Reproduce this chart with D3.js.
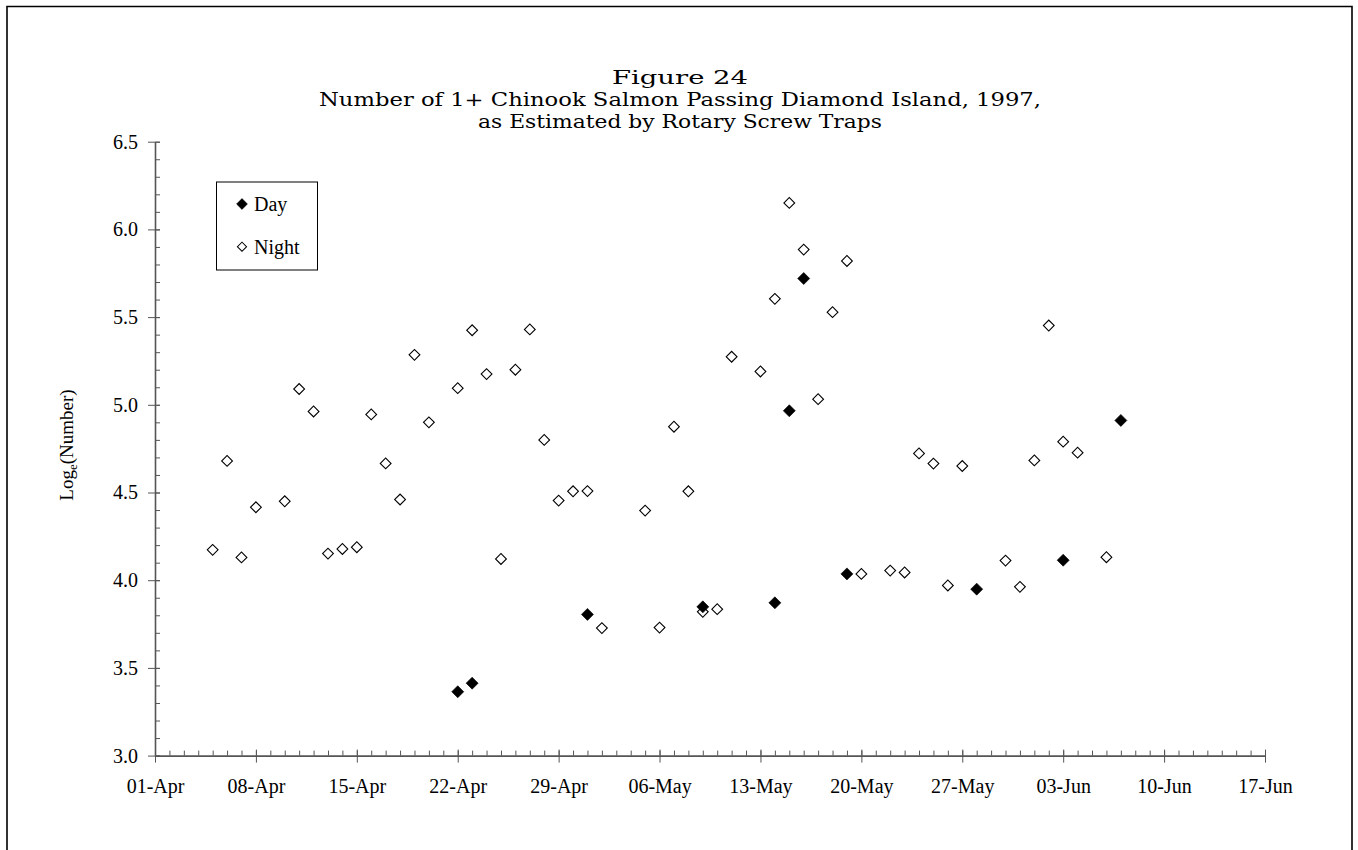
<!DOCTYPE html>
<html>
<head>
<meta charset="utf-8">
<script src="https://cdn.jsdelivr.net/npm/d3@7"></script>
<style>
  html, body { margin: 0; padding: 0; background: #fff; }
  svg { display: block; }
</style>
</head>
<body>
<svg id="chart" width="1358" height="850"></svg>
<script>
// ---- data ----
const titleLines = ["Figure 24",
  "Number of 1+ Chinook Salmon Passing Diamond Island, 1997,",
  "as Estimated by Rotary Screw Traps"];
const xTickLabels = ["01-Apr","08-Apr","15-Apr","22-Apr","29-Apr","06-May","13-May","20-May","27-May","03-Jun","10-Jun","17-Jun"];
const yTicks = [3.0, 3.5, 4.0, 4.5, 5.0, 5.5, 6.0, 6.5];

const nightDates = ["1997-04-05","1997-04-06","1997-04-07","1997-04-08","1997-04-10","1997-04-11","1997-04-12","1997-04-13","1997-04-14","1997-04-15",
  "1997-04-16","1997-04-17","1997-04-18","1997-04-19","1997-04-20","1997-04-22","1997-04-23","1997-04-24","1997-04-25","1997-04-26",
  "1997-04-27","1997-04-28","1997-04-29","1997-04-30","1997-05-01","1997-05-02","1997-05-05","1997-05-06","1997-05-07","1997-05-08",
  "1997-05-09","1997-05-10","1997-05-11","1997-05-13","1997-05-14","1997-05-15","1997-05-16","1997-05-17","1997-05-18","1997-05-19",
  "1997-05-20","1997-05-22","1997-05-23","1997-05-24","1997-05-25","1997-05-26","1997-05-27","1997-05-30","1997-05-31","1997-06-01",
  "1997-06-02","1997-06-03","1997-06-04","1997-06-06"];
const nightValues = [4.173,4.68,4.13,4.416,4.45,5.09,4.962,4.152,4.178,4.188,
  4.945,4.666,4.46,5.285,4.90,5.095,5.425,5.175,4.121,5.20,
  5.43,4.80,4.454,4.507,4.508,3.727,4.397,3.73,4.875,4.507,
  3.82,3.835,5.274,5.19,5.604,6.151,5.885,5.032,5.528,5.82,
  4.036,4.055,4.044,4.723,4.665,3.97,4.651,4.112,3.962,4.683,
  5.452,4.79,4.727,4.131];

const dayDates = ["1997-04-22","1997-04-23","1997-05-01","1997-05-09","1997-05-14","1997-05-15","1997-05-16","1997-05-19","1997-05-28","1997-06-03","1997-06-07"];
const dayValues = [3.364,3.413,3.805,3.848,3.871,4.966,5.72,4.036,3.949,4.114,4.911];

const seriesNames = ["Day", "Night"];

// ---- layout ----
const svg = d3.select("#chart");
const serif = "'Liberation Serif', 'Times New Roman', serif";
const parse = d3.utcParse("%Y-%m-%d");

const x = d3.scaleUtc()
  .domain([parse("1997-04-01"), parse("1997-06-17")])
  .range([155, 1265]);
const y = d3.scaleLinear().domain([3.0, 6.5]).range([755.6, 141.7]);

// outer frame (bottom edge is cut off in the reference)
svg.append("path")
  .attr("d", "M7,852 L7,6.5 L1352,6.5 L1352,852")
  .attr("fill", "none").attr("stroke", "#000").attr("stroke-width", 1.6);

// title
const titleWidths = [136, 722, 404];
const title = svg.append("text")
  .attr("text-anchor", "middle")
  .attr("font-family", "'DejaVu Serif', serif")
  .attr("font-size", 18.5)
  .attr("fill", "#000");
titleLines.forEach((t, i) => {
  title.append("tspan").attr("x", 680).attr("y", 84 + i * 22)
    .attr("textLength", titleWidths[i]).attr("lengthAdjust", "spacingAndGlyphs")
    .text(t);
});

const axisColor = "#555";

// x axis: minor daily ticks
const gxMinor = svg.append("g").attr("transform", "translate(0,755.6)")
  .call(d3.axisTop(x).ticks(d3.utcDay.every(1)).tickSize(5).tickFormat(""));
gxMinor.select(".domain").remove();
gxMinor.selectAll("line").attr("stroke", axisColor);

// x axis: major weekly ticks with labels
const majorDates = d3.utcDay.range(parse("1997-04-01"), d3.utcDay.offset(parse("1997-06-17"), 1), 7);
const gx = svg.append("g").attr("transform", "translate(0,755.6)")
  .call(d3.axisBottom(x).tickValues(majorDates).tickSize(7).tickSizeOuter(0)
    .tickFormat((d, i) => xTickLabels[i]));
gx.select(".domain").attr("stroke", axisColor).attr("stroke-width", 1.6);
gx.selectAll(".tick line").attr("stroke", axisColor).attr("y1", -6).attr("y2", 7);
gx.selectAll(".tick text")
  .attr("font-family", serif).attr("font-size", 20).attr("fill", "#000")
  .attr("y", 37).attr("dy", null);

// y axis: minor ticks every 0.1
const gyMinor = svg.append("g").attr("transform", "translate(155,0)")
  .call(d3.axisRight(y).tickValues(d3.range(30, 66, 1).map(v => v / 10)).tickSize(5).tickFormat(""));
gyMinor.select(".domain").remove();
gyMinor.selectAll("line").attr("stroke", axisColor);

// y axis: major ticks
const gy = svg.append("g").attr("transform", "translate(155,0)")
  .call(d3.axisLeft(y).tickValues(yTicks).tickSize(7).tickSizeOuter(0).tickFormat(d3.format(".1f")));
gy.select(".domain").attr("stroke", axisColor).attr("stroke-width", 1.6);
gy.selectAll(".tick line").attr("stroke", axisColor).attr("x1", 5).attr("x2", -7);
gy.selectAll(".tick text")
  .attr("font-family", serif).attr("font-size", 20).attr("fill", "#000")
  .attr("x", -17);

// y axis title
const yl = svg.append("text")
  .attr("transform", "translate(73,445) rotate(-90)")
  .attr("text-anchor", "middle")
  .attr("font-family", serif).attr("font-size", 19).attr("fill", "#000");
yl.append("tspan").text("Log");
yl.append("tspan").attr("font-size", 13).attr("dy", 4).text("e");
yl.append("tspan").attr("dy", -4).text("(Number)");

// markers
const diamond = (size) => d3.symbol(d3.symbolSquare, size)();
const night = nightDates.map((d, i) => ({ date: parse(d), v: nightValues[i] }));
const day = dayDates.map((d, i) => ({ date: parse(d), v: dayValues[i] }));

svg.append("g").selectAll("path").data(night).join("path")
  .attr("d", diamond(58))
  .attr("transform", d => `translate(${x(d.date)},${y(d.v)}) rotate(45)`)
  .attr("fill", "#fff").attr("stroke", "#000").attr("stroke-width", 1.1);

svg.append("g").selectAll("path").data(day).join("path")
  .attr("d", diamond(72))
  .attr("transform", d => `translate(${x(d.date)},${y(d.v)}) rotate(45)`)
  .attr("fill", "#000").attr("stroke", "#000").attr("stroke-width", 0.6);

// legend
const lg = svg.append("g");
lg.append("rect").attr("x", 216.5).attr("y", 182).attr("width", 101).attr("height", 88)
  .attr("fill", "#fff").attr("stroke", "#000").attr("stroke-width", 1);
seriesNames.forEach((name, i) => {
  const cy = 204 + i * 42.7;
  lg.append("path").attr("d", diamond(name === "Day" ? 58 : 42))
    .attr("transform", `translate(242,${cy}) rotate(45)`)
    .attr("fill", name === "Day" ? "#000" : "#fff")
    .attr("stroke", "#000").attr("stroke-width", name === "Day" ? 0.6 : 1);
  lg.append("text").attr("x", 254).attr("y", cy + 7)
    .attr("font-family", serif).attr("font-size", 20).attr("fill", "#000").text(name);
});
</script>
</body>
</html>
